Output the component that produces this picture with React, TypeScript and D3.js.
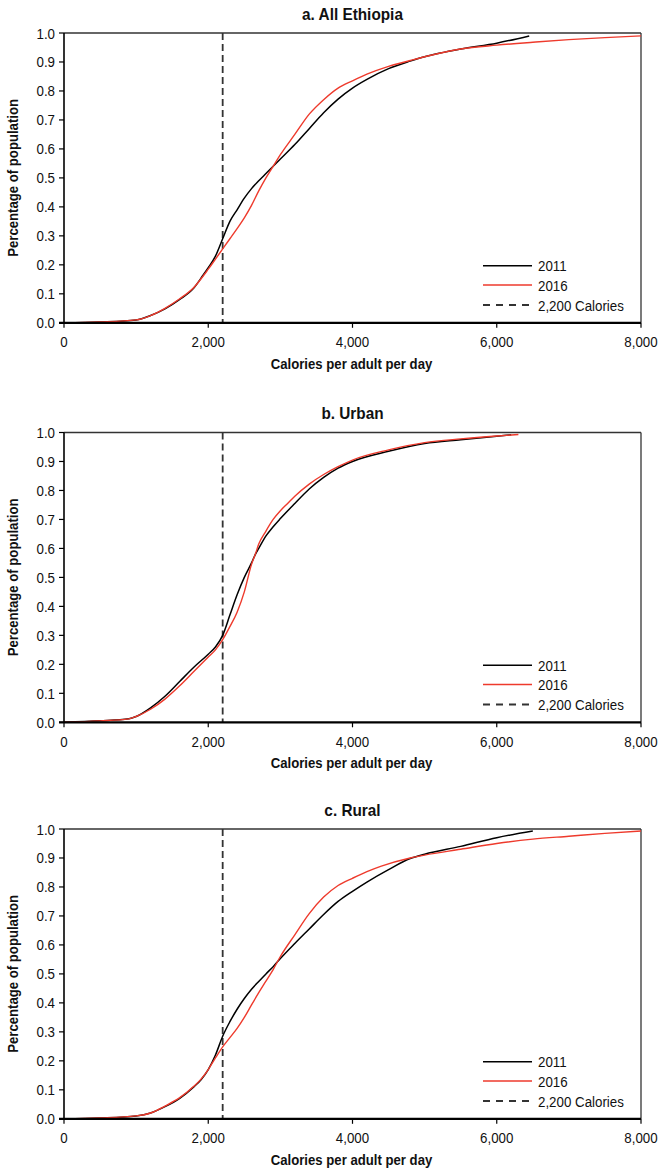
import React from "react";
import * as d3 from "d3";

// Calorie grid (x values) and CDF values
const allCal2011 = [0, 500, 1000, 1200, 1400, 1600, 1800, 1930, 2000, 2100, 2200, 2300, 2400, 2500, 2600, 2700, 2800, 2900, 3000, 3200, 3400, 3600, 3800, 4000, 4200, 4500, 4800, 5000, 5200, 5500, 6000, 6450];
const allVal2011 = [0, 0.003, 0.01, 0.025, 0.048, 0.08, 0.12, 0.165, 0.19, 0.23, 0.29, 0.35, 0.39, 0.43, 0.463, 0.49, 0.515, 0.54, 0.565, 0.615, 0.67, 0.725, 0.772, 0.81, 0.84, 0.877, 0.903, 0.918, 0.93, 0.945, 0.965, 0.99];
const allCal2016 = [0, 500, 1000, 1200, 1400, 1600, 1800, 2000, 2100, 2200, 2300, 2400, 2500, 2600, 2700, 2800, 2900, 3000, 3200, 3400, 3600, 3800, 4000, 4200, 4500, 4800, 5000, 5500, 6000, 6500, 7000, 7500, 8000];
const allVal2016 = [0, 0.003, 0.01, 0.025, 0.05, 0.082, 0.122, 0.185, 0.22, 0.255, 0.29, 0.325, 0.362, 0.405, 0.455, 0.5, 0.54, 0.58, 0.65, 0.72, 0.77, 0.81, 0.835, 0.858, 0.885, 0.905, 0.918, 0.945, 0.958, 0.968, 0.977, 0.984, 0.99];

const urbCal2011 = [0, 500, 900, 1000, 1200, 1400, 1600, 1800, 2000, 2100, 2200, 2300, 2400, 2500, 2600, 2650, 2700, 2800, 2900, 3000, 3200, 3400, 3600, 3800, 4000, 4500, 5000, 5500, 6000, 6200];
const urbVal2011 = [0, 0.005, 0.012, 0.02, 0.05, 0.09, 0.14, 0.19, 0.235, 0.26, 0.3, 0.37, 0.44, 0.5, 0.55, 0.578, 0.6, 0.643, 0.675, 0.703, 0.755, 0.805, 0.845, 0.877, 0.9, 0.935, 0.962, 0.975, 0.987, 0.992];
const urbCal2016 = [0, 500, 900, 1000, 1200, 1400, 1600, 1800, 2000, 2100, 2200, 2300, 2400, 2500, 2600, 2650, 2700, 2800, 2900, 3000, 3100, 3200, 3400, 3600, 3800, 4000, 4500, 5000, 5500, 6000, 6300];
const urbVal2016 = [0, 0.005, 0.012, 0.02, 0.045, 0.08, 0.125, 0.175, 0.225, 0.25, 0.285, 0.33, 0.38, 0.45, 0.545, 0.578, 0.615, 0.66, 0.7, 0.73, 0.755, 0.78, 0.822, 0.855, 0.882, 0.905, 0.94, 0.965, 0.978, 0.988, 0.993];

const rurCal2011 = [0, 500, 1000, 1200, 1400, 1600, 1800, 1900, 2000, 2100, 2200, 2300, 2400, 2500, 2600, 2700, 2800, 2900, 3000, 3200, 3400, 3600, 3800, 4000, 4200, 4500, 4800, 5000, 5500, 6000, 6500];
const rurVal2011 = [0, 0.003, 0.01, 0.02, 0.042, 0.07, 0.11, 0.135, 0.17, 0.22, 0.285, 0.335, 0.378, 0.415, 0.447, 0.474, 0.5, 0.525, 0.553, 0.605, 0.655, 0.705, 0.75, 0.785, 0.817, 0.86, 0.898, 0.913, 0.94, 0.97, 0.993];
const rurCal2016 = [0, 500, 1000, 1200, 1400, 1600, 1800, 1900, 2000, 2100, 2200, 2300, 2400, 2500, 2600, 2700, 2800, 2900, 3000, 3200, 3400, 3600, 3800, 4000, 4200, 4400, 4800, 5000, 5500, 6000, 6500, 7000, 7500, 8000];
const rurVal2016 = [0, 0.003, 0.01, 0.02, 0.044, 0.072, 0.112, 0.137, 0.17, 0.21, 0.248, 0.28, 0.312, 0.35, 0.393, 0.435, 0.475, 0.515, 0.56, 0.635, 0.708, 0.765, 0.805, 0.83, 0.853, 0.872, 0.9, 0.91, 0.93, 0.95, 0.965, 0.975, 0.985, 0.993];

const panelTitles = ["a. All Ethiopia", "b. Urban", "c. Rural"];
const xTicks = [0, 2000, 4000, 6000, 8000];
const yTicks = [0, 0.1, 0.2, 0.3, 0.4, 0.5, 0.6, 0.7, 0.8, 0.9, 1.0];
const seriesNames = ["2011", "2016"];
const thresholdLabel = "2,200 Calories";
const threshold = 2200;
const xTitle = "Calories per adult per day";
const yTitle = "Percentage of population";

const panelSeries = [
  [[allCal2011, allVal2011], [allCal2016, allVal2016]],
  [[urbCal2011, urbVal2011], [urbCal2016, urbVal2016]],
  [[rurCal2011, rurVal2011], [rurCal2016, rurVal2016]],
];

const colors = ["#000000", "#ee3a2c"];
const FONT = "'Liberation Sans', Arial, Helvetica, sans-serif";

const left = 64;
const right = 641;
const panelTops = [33, 432.5, 829];
const plotH = 289.8;

function T({
  x,
  y,
  children,
  anchor = "start",
  size = 15.5,
  bold = false,
  sx = 0.86,
  rotate = 0,
}: {
  x: number;
  y: number;
  children: React.ReactNode;
  anchor?: string;
  size?: number;
  bold?: boolean;
  sx?: number;
  rotate?: number;
}) {
  return (
    <text
      transform={`translate(${x},${y}) rotate(${rotate}) scale(${sx},1)`}
      textAnchor={anchor}
      fontFamily={FONT}
      fontWeight={bold ? "bold" : "normal"}
      fontSize={size}
      fill="#111"
    >
      {children}
    </text>
  );
}

function Panel({ idx }: { idx: number }) {
  const top = panelTops[idx];
  const bottom = top + plotH;
  const x = d3.scaleLinear().domain([0, 8000]).range([left, right]);
  const y = d3.scaleLinear().domain([0, 1]).range([bottom, top]);
  const line = d3
    .line<[number, number]>()
    .x((d) => x(d[0]))
    .y((d) => y(d[1]))
    .curve(d3.curveMonotoneX);
  const legY = [top + 232.7, top + 252, top + 272];
  return (
    <g>
      <T x={(left + right) / 2} y={top - 13.5} anchor="middle" size={16.5} bold sx={0.93}>
        {panelTitles[idx]}
      </T>
      <line x1={left} x2={right} y1={top} y2={top} stroke="#333" strokeWidth={1.3} />
      <line x1={right} x2={right} y1={top} y2={bottom} stroke="#333" strokeWidth={1.3} />
      <line x1={x(threshold)} x2={x(threshold)} y1={top} y2={bottom} stroke="#333" strokeWidth={1.8} strokeDasharray="7,4" />
      {panelSeries[idx].map((s, i) => {
        const pts = s[0].map((c, k) => [c, s[1][k]] as [number, number]);
        return <path key={i} d={line(pts) || ""} fill="none" stroke={colors[i]} strokeWidth={i === 0 ? 1.5 : 1.4} />;
      })}
      <line x1={left} x2={left} y1={top} y2={bottom} stroke="#000" strokeWidth={1.6} />
      <line x1={left - 5} x2={right} y1={bottom} y2={bottom} stroke="#000" strokeWidth={2.2} />
      {yTicks.map((t) => (
        <g key={t}>
          <line x1={left - 5} x2={left} y1={y(t)} y2={y(t)} stroke="#000" strokeWidth={1.2} />
          <T x={left - 9} y={y(t) + 5.5} anchor="end">
            {t.toFixed(1)}
          </T>
        </g>
      ))}
      {xTicks.map((t) => (
        <g key={t}>
          <line x1={x(t)} x2={x(t)} y1={bottom} y2={bottom + 5} stroke="#000" strokeWidth={1.2} />
          <T x={x(t)} y={bottom + 24.5} anchor="middle">
            {d3.format(",")(t)}
          </T>
        </g>
      ))}
      <T x={(left + right) / 2 - 1} y={bottom + 46} anchor="middle" size={14} bold sx={0.94}>
        {xTitle}
      </T>
      <T x={18} y={(top + bottom) / 2} anchor="middle" size={14} bold sx={0.94} rotate={-90}>
        {yTitle}
      </T>
      {seriesNames.map((n, i) => (
        <g key={n}>
          <line x1={483} x2={532} y1={legY[i]} y2={legY[i]} stroke={colors[i]} strokeWidth={1.5} />
          <T x={538} y={legY[i] + 5.5}>
            {n}
          </T>
        </g>
      ))}
      <line x1={483} x2={532} y1={legY[2]} y2={legY[2]} stroke="#333" strokeWidth={1.8} strokeDasharray="7,6" />
      <T x={538} y={legY[2] + 5.5}>
        {thresholdLabel}
      </T>
    </g>
  );
}

export default function App() {
  return (
    <svg width={663} height={1169} style={{ position: "absolute", left: 0, top: 0, background: "#fff" }}>
      <rect width={663} height={1169} fill="#fff" />
      {[0, 1, 2].map((i) => (
        <Panel key={i} idx={i} />
      ))}
    </svg>
  );
}
